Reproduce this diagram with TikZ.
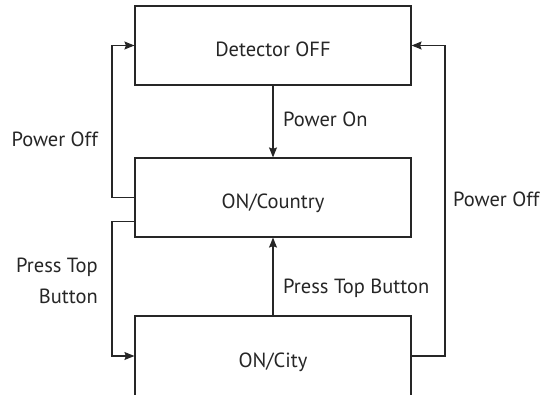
\documentclass[tikz,border=0pt]{standalone}
\usepackage{fontspec}
\setmainfont{PT Sans}
\usetikzlibrary{arrows.meta,calc}
\definecolor{ink}{HTML}{262626}
\tikzset{
  state/.style={draw=ink, line width=1.2pt, minimum width=276pt, minimum height=79pt,
                inner sep=0pt, text height=22pt, text depth=0pt,
                font=\fontsize{20.5}{24}\selectfont, text=ink},
  link/.style={draw=ink, line width=1.2pt, -{Stealth[length=10pt,width=8pt,inset=1.5pt]}},
  lbl/.style={font=\fontsize{20.5}{31}\selectfont, text=ink, inner sep=0pt}
}
\begin{document}
\begin{tikzpicture}[x=1pt,y=-1pt]
  \useasboundingbox (0,0) rectangle (543,395);
  \clip (0,0) rectangle (543,395);

  % the three states
  \node[state] (off)     at (273,45.5)  {Detector OFF};
  \node[state] (country) at (273,197.5) {ON/Country};
  \node[state, minimum height=80pt] (city) at (273,356) {ON/City};

  % free bends of the return paths
  \coordinate (lt) at (112,0);
  \coordinate (rt) at (445,0);

  % transitions
  \draw[link] (off.south) -- (country.north);
  \draw[link] (city.north) -- (country.south);
  \draw[link] (country.west) -- (country.west -| lt) |- (off.west);
  \draw[link] ($(country.west)+(0,24)$) -- ($(country.west -| lt)+(0,24)$) |- (city.west);
  \draw[link] (city.east) -- (city.east -| rt) |- (off.east);

  % labels
  \node[lbl, anchor=base west] (lon) at (283,127) {Power On};
  \node[lbl, anchor=base east] (loffl) at (98,147) {Power Off};
  \node[lbl, anchor=base west] (lpress) at (283,293) {Press Top Button};
  \node[lbl, anchor=east, align=right] (lpressl) at (98,281) {Press Top\\Button};
  \node[lbl, anchor=base west] (loffr) at (453,207) {Power Off};
\end{tikzpicture}
\end{document}
